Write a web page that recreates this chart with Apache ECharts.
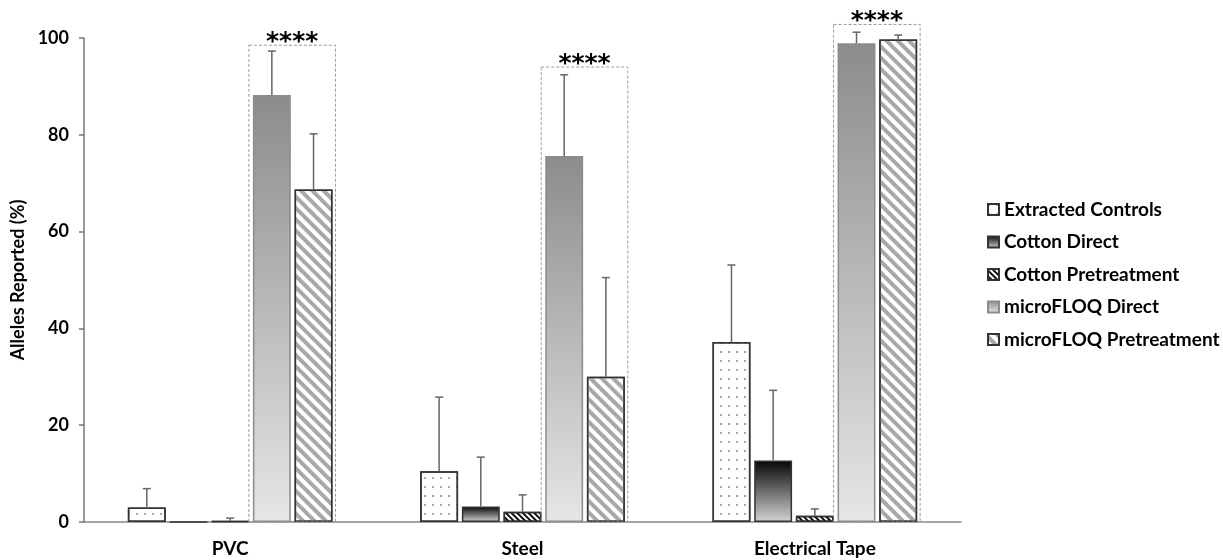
<!DOCTYPE html>
<html>
<head>
<meta charset="utf-8">
<script src="https://cdn.jsdelivr.net/npm/echarts@6/dist/echarts.min.js"></script>
<style>
  html, body { margin: 0; padding: 0; background: #fff; }
  #chart { width: 1223px; height: 560px; }
</style>
</head>
<body>
<div id="chart"></div>
<script>
// surfaces tested
const categories = ['PVC', 'Steel', 'Electrical Tape']
const seriesNames = ['Extracted Controls', 'Cotton Direct', 'Cotton Pretreatment', 'microFLOQ Direct', 'microFLOQ Pretreatment']

// alleles reported (%) and upper error bar length
const extracted = [3.0, 10.5, 37.2]
const extractedErr = [3.9, 15.3, 15.9]
const cottonDirect = [0, 3.2, 12.7]
const cottonDirectErr = [0, 10.2, 14.5]
const cottonPre = [0.2, 2.1, 1.3]
const cottonPreErr = [0.6, 3.5, 1.4]
const floqDirect = [88.2, 75.6, 98.9]
const floqDirectErr = [9.1, 16.8, 2.3]
const floqPre = [68.7, 30.0, 99.7]
const floqPreErr = [11.5, 20.5, 0.9]

// significance boxes round the microFLOQ bars
const sigTop = [98.5, 94.0, 102.8]
const sigText = ['****', '****', '****']

const yTicks = [0, 20, 40, 60, 80, 100]

const values = [extracted, cottonDirect, cottonPre, floqDirect, floqPre]
const errors = [extractedErr, cottonDirectErr, cottonPreErr, floqDirectErr, floqPreErr]

const FONT = 'Lato'
const CAT_GAP = 0.3
const BAR_GAP = 0.1

function barPos(api, cat, s) {
  const band = api.size([1, 0])[0]
  const w = band * (1 - CAT_GAP) / (5 + 4 * BAR_GAP)
  const left = api.coord([cat, 0])[0] - band * (1 - CAT_GAP) / 2 + s * w * (1 + BAR_GAP)
  return { left: left, width: w }
}

const styles = [
  {
    color: '#fff', borderColor: '#333', borderWidth: 1.5,
    decal: { symbol: 'circle', symbolSize: 0.8, color: '#333', dashArrayX: [2, 6], dashArrayY: [2, 7] }
  },
  {
    color: new echarts.graphic.LinearGradient(0, 0, 0, 1, [
      { offset: 0, color: '#050505' },
      { offset: 1, color: '#d4d4d4' }
    ]),
    borderColor: '#333', borderWidth: 1.5
  },
  {
    color: '#fff', borderColor: '#333', borderWidth: 1.5,
    decal: { symbol: 'rect', symbolSize: 1, color: '#111', dashArrayX: [1, 0], dashArrayY: [2, 2], rotation: Math.PI / 4 }
  },
  {
    color: new echarts.graphic.LinearGradient(0, 0, 0, 1, [
      { offset: 0, color: '#8c8c8c' },
      { offset: 1, color: '#e6e6e6' }
    ]),
    borderColor: '#8c8c8c', borderWidth: 1.5
  },
  {
    color: '#fff', borderColor: '#333', borderWidth: 1.5,
    decal: { symbol: 'rect', symbolSize: 1, color: '#a8a8a8', dashArrayX: [1, 0], dashArrayY: [4, 4], rotation: Math.PI / 4 }
  }
]

const barSeries = seriesNames.map(function(name, i) {
  return {
    name: name,
    type: 'bar',
    barCategoryGap: '30%',
    barGap: '10%',
    itemStyle: styles[i],
    emphasis: { disabled: true },
    data: values[i]
  }
})

const errData = []
values.forEach(function(arr, s) {
  arr.forEach(function(v, c) {
    if (errors[s][c] > 0) errData.push([c, v, errors[s][c], s])
  })
})

const chart = echarts.init(document.getElementById('chart'))
chart.setOption({
  backgroundColor: '#fff',
  animation: false,
  grid: { left: 84, right: 262, top: 38, bottom: 38 },
  legend: {
    orient: 'vertical',
    left: 982,
    top: 195,
    icon: 'rect',
    itemWidth: 11,
    itemHeight: 11,
    itemGap: 13.5,
    textStyle: { fontFamily: FONT, fontWeight: 'bold', fontSize: 19, color: '#000' },
    data: seriesNames
  },
  xAxis: {
    type: 'category',
    data: categories,
    axisLine: { lineStyle: { color: '#888', width: 1.5 } },
    axisTick: { show: false },
    axisLabel: { margin: 17, fontFamily: FONT, fontWeight: 'bold', fontSize: 19, color: '#000' }
  },
  yAxis: {
    type: 'value',
    min: yTicks[0],
    max: yTicks[yTicks.length - 1],
    interval: 20,
    name: 'Alleles Reported (%)',
    nameLocation: 'middle',
    nameGap: 54,
    nameTextStyle: { fontFamily: FONT, fontWeight: 'bold', fontSize: 18, color: '#000' },
    splitLine: { show: false },
    axisLine: { show: true, lineStyle: { color: '#777', width: 1.5 } },
    axisTick: { show: true, length: 5, lineStyle: { color: '#777', width: 1.5 } },
    axisLabel: { margin: 15, fontFamily: FONT, fontWeight: 'bold', fontSize: 18, color: '#000' }
  },
  series: barSeries.concat([
    {
      type: 'custom',
      name: 'errors',
      z: 5,
      silent: true,
      data: errData,
      renderItem: function(params, api) {
        const cat = api.value(0)
        const v = api.value(1)
        const e = api.value(2)
        const b = barPos(api, cat, api.value(3))
        const x = b.left + b.width / 2
        const y1 = api.coord([cat, v])[1]
        const y2 = api.coord([cat, v + e])[1]
        const st = { stroke: '#666', lineWidth: 1.5 }
        return {
          type: 'group',
          children: [
            { type: 'line', shape: { x1: x, y1: y1, x2: x, y2: y2 }, style: st },
            { type: 'line', shape: { x1: x - 4, y1: y2, x2: x + 4, y2: y2 }, style: st }
          ]
        }
      }
    },
    {
      type: 'custom',
      name: 'significance',
      z: 4,
      silent: true,
      clip: false,
      data: sigTop.map(function(t, i) { return [i, t] }),
      renderItem: function(params, api) {
        const cat = api.value(0)
        const b3 = barPos(api, cat, 3)
        const b4 = barPos(api, cat, 4)
        const x1 = b3.left - 4
        const x2 = b4.left + b4.width + 3
        const yTop = api.coord([cat, api.value(1)])[1]
        const yBot = api.coord([cat, 0])[1]
        return {
          type: 'group',
          children: [
            {
              type: 'rect',
              shape: { x: x1, y: yTop, width: x2 - x1, height: yBot - yTop },
              style: { fill: 'none', stroke: '#9a9a9a', lineWidth: 1, lineDash: [3, 2] }
            },
            {
              type: 'text',
              style: {
                text: sigText[cat],
                x: (x1 + x2) / 2,
                y: yTop - 3,
                align: 'center',
                verticalAlign: 'middle',
                font: 'bold 25px "DejaVu Sans"',
                fill: '#000'
              }
            }
          ]
        }
      }
    }
  ])
})
</script>
</body>
</html>
